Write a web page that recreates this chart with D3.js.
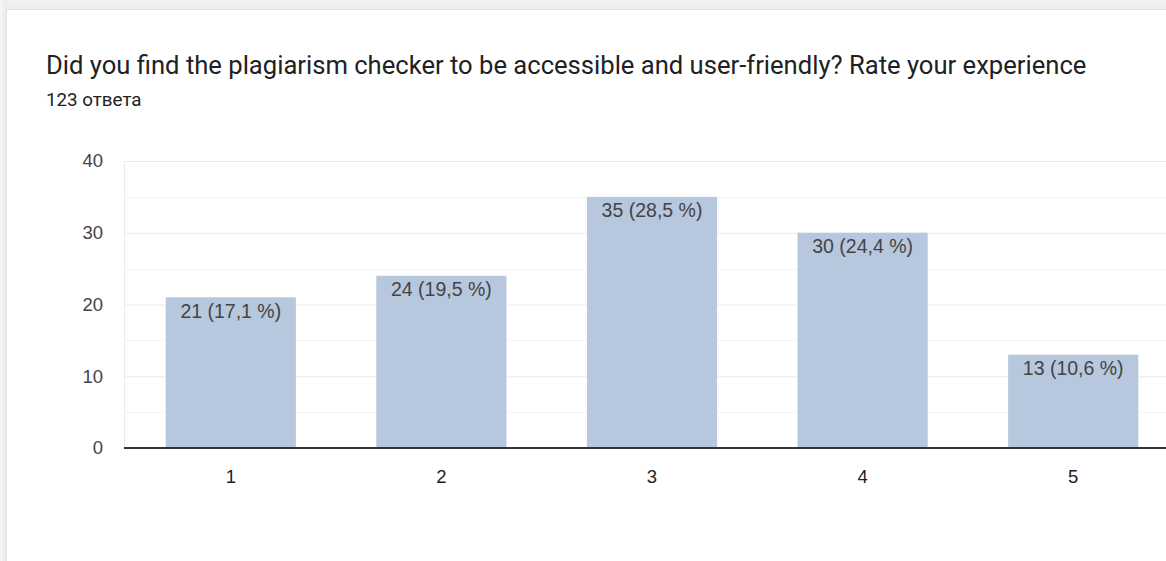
<!DOCTYPE html>
<html>
<head>
<meta charset="utf-8">
<script src="https://cdn.jsdelivr.net/npm/d3@7"></script>
<style>
  html, body { margin: 0; padding: 0; background: #fff; }
  svg { display: block; }
</style>
</head>
<body>
<svg id="chart" width="1166" height="561"></svg>
<script>
// Survey answers: rating 1–5, number of respondents and share
const categories = ["1", "2", "3", "4", "5"];
const counts = [21, 24, 35, 30, 13];
const shares = ["17,1", "19,5", "28,5", "24,4", "10,6"];
const yTicks = [0, 10, 20, 30, 40];
const title = "Did you find the plagiarism checker to be accessible and user-friendly? Rate your experience";
const subtitle = "123 ответа";

const W = 1166, H = 561;
const svg = d3.select("#chart");

// page background and card edge
const defs = svg.append("defs");
const gTop = defs.append("linearGradient").attr("id", "shTop").attr("x1", 0).attr("y1", 0).attr("x2", 0).attr("y2", 1);
gTop.append("stop").attr("offset", "0%").attr("stop-color", "#f3f3f3");
gTop.append("stop").attr("offset", "100%").attr("stop-color", "#ececec");
const gLeft = defs.append("linearGradient").attr("id", "shLeft").attr("x1", 0).attr("y1", 0).attr("x2", 1).attr("y2", 0);
gLeft.append("stop").attr("offset", "0%").attr("stop-color", "#f6f6f6");
gLeft.append("stop").attr("offset", "100%").attr("stop-color", "#e9e9e9");

svg.append("rect").attr("x", 0).attr("y", 0).attr("width", W).attr("height", 10).attr("fill", "url(#shTop)");
svg.append("rect").attr("x", 0).attr("y", 0).attr("width", 7).attr("height", H).attr("fill", "url(#shLeft)");
svg.append("rect").attr("x", 7).attr("y", 10).attr("width", W - 7).attr("height", H - 10).attr("fill", "#ffffff");
svg.append("line").attr("x1", 7).attr("x2", W).attr("y1", 9.5).attr("y2", 9.5).attr("stroke", "#e2e2e2");
svg.append("line").attr("x1", 6.5).attr("x2", 6.5).attr("y1", 10).attr("y2", H).attr("stroke", "#e2e2e2");

// heading
svg.append("text")
  .attr("x", 46).attr("y", 74)
  .attr("font-family", "Roboto, sans-serif")
  .attr("font-size", 25.6)
  .attr("fill", "#202124")
  .text(title);
svg.append("text")
  .attr("x", 46).attr("y", 106)
  .attr("font-family", "Roboto, sans-serif")
  .attr("font-size", 18.8)
  .attr("fill", "#202124")
  .text(subtitle);

// plot area
const plotLeft = 125.5, plotRight = 1178.5, plotTop = 161, plotBottom = 448;
const x = d3.scaleBand().domain(categories).range([plotLeft, plotRight]).paddingInner(0.382).paddingOuter(0.191);
const y = d3.scaleLinear().domain([0, 40]).range([plotBottom, plotTop]);
const gridLeft = 124;

const fontAxis = "'Liberation Sans', Arial, sans-serif";

// minor gridlines
const minor = d3.range(5, 40, 10);
svg.append("g").selectAll("line").data(minor).join("line")
  .attr("x1", gridLeft).attr("x2", W)
  .attr("y1", d => Math.round(y(d)) + 0.5).attr("y2", d => Math.round(y(d)) + 0.5)
  .attr("stroke", "#f3f3f3");

// major gridlines via axis
const yAxis = d3.axisLeft(y).tickValues(yTicks).tickSize(-(W - gridLeft)).tickPadding(21);
const gy = svg.append("g").attr("transform", `translate(${gridLeft},0)`).call(yAxis);
gy.select(".domain").remove();
gy.selectAll(".tick line").attr("stroke", "#ebebeb");
gy.selectAll(".tick text")
  .attr("font-family", fontAxis).attr("font-size", 18.5).attr("fill", "#444");

// left vertical grid edge
svg.append("line").attr("x1", gridLeft + 0.5).attr("x2", gridLeft + 0.5)
  .attr("y1", plotTop).attr("y2", plotBottom).attr("stroke", "#ebebeb");

// bars
svg.append("g").selectAll("rect").data(counts).join("rect")
  .attr("x", (d, i) => x(categories[i]))
  .attr("width", x.bandwidth())
  .attr("y", d => y(d))
  .attr("height", d => y(0) - y(d))
  .attr("fill", "#b7c7dd");

// value labels
svg.append("g").selectAll("text").data(counts).join("text")
  .attr("x", (d, i) => x(categories[i]) + x.bandwidth() / 2)
  .attr("y", d => y(d) + 20.5)
  .attr("text-anchor", "middle")
  .attr("font-family", fontAxis).attr("font-size", 19.5)
  .attr("fill", "#444")
  .text((d, i) => `${d} (${shares[i]} %)`);

// baseline
svg.append("line").attr("x1", gridLeft).attr("x2", W)
  .attr("y1", plotBottom).attr("y2", plotBottom)
  .attr("stroke", "#333").attr("stroke-width", 2);

// x axis labels
const xAxis = d3.axisBottom(x).tickSize(0).tickPadding(22);
const gx = svg.append("g").attr("transform", `translate(0,${plotBottom})`).call(xAxis);
gx.select(".domain").remove();
gx.selectAll(".tick text")
  .attr("font-family", fontAxis).attr("font-size", 18.5).attr("fill", "#222");
</script>
</body>
</html>
